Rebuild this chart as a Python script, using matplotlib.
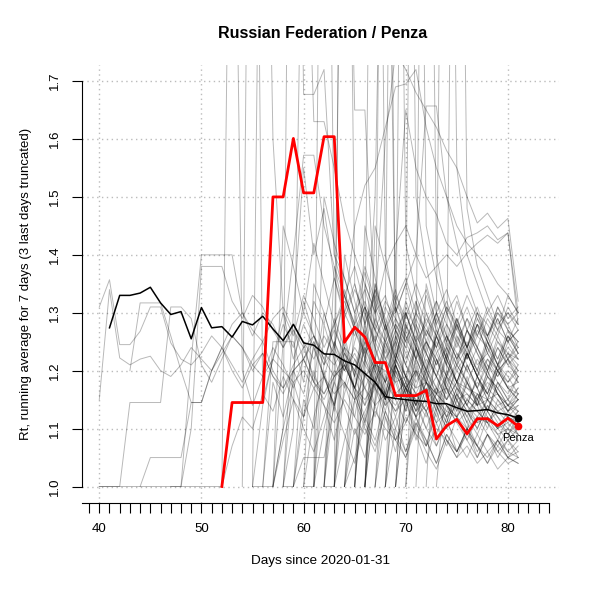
import matplotlib
matplotlib.use("Agg")
import matplotlib.pyplot as plt
import numpy as np

plt.rcParams['font.family'] = ['Liberation Sans', 'DejaVu Sans']

# Rt of all regions: (first day, daily values up to day 81)
gray_series = [
    (40, [1.31, 1.357, 1.245, 1.245, 1.268, 1.31, 1.31, 1.248, 1.22, 1.21, 1.23, 1.26, 1.24, 1.28, 1.30, 1.27, 1.25, 1.29, 1.31, 1.27, 1.24, 1.26, 1.23, 1.21, 1.24, 1.22, 1.19, 1.21, 1.20, 1.18, 1.19, 1.17, 1.18, 1.16, 1.17, 1.15, 1.16, 1.14, 1.15, 1.13, 1.14, 1.13]),
    (40, [1.15, 1.34, 1.222, 1.21, 1.22, 1.225, 1.20, 1.19, 1.21, 1.24, 1.22, 1.20, 1.23, 1.26, 1.24, 1.21, 1.19, 1.22, 1.20, 1.18, 1.20, 1.17, 1.19, 1.16, 1.18, 1.15, 1.17, 1.14, 1.16, 1.13, 1.15, 1.12, 1.14, 1.11, 1.13, 1.12, 1.10, 1.12, 1.11, 1.09, 1.10, 1.09]),
    (40, [1.0, 1.0, 1.0, 1.145, 1.145, 1.145, 1.145, 1.31, 1.31, 1.29, 1.21, 1.18, 1.22, 1.26, 1.24, 1.20, 1.23, 1.19, 1.17, 1.20, 1.22, 1.18, 1.16, 1.19, 1.21, 1.17, 1.15, 1.18, 1.16, 1.14, 1.17, 1.15, 1.13, 1.16, 1.14, 1.12, 1.15, 1.13, 1.11, 1.13, 1.12, 1.11]),
    (44, [1.0, 1.05, 1.05, 1.05, 1.05, 1.145, 1.145, 1.20, 1.24, 1.21, 1.18, 1.22, 1.25, 1.20, 1.17, 1.21, 1.24, 1.19, 1.16, 1.20, 1.18, 1.15, 1.19, 1.17, 1.14, 1.16, 1.18, 1.13, 1.15, 1.17, 1.12, 1.14, 1.13, 1.11, 1.12, 1.10, 1.11, 1.09]),
    (47, [1.0, 1.0, 1.22, 1.40, 1.40, 1.40, 1.40, 1.30, 1.26, 1.30, 1.28, 1.24, 1.27, 1.22, 1.25, 1.21, 1.24, 1.20, 1.23, 1.19, 1.22, 1.18, 1.21, 1.17, 1.20, 1.16, 1.19, 1.15, 1.18, 1.17, 1.16, 1.15, 1.16, 1.14, 1.15]),
    (48, [1.0, 1.10, 1.38, 1.38, 1.38, 1.32, 1.29, 1.33, 1.31, 1.27, 1.24, 1.28, 1.25, 1.22, 1.26, 1.23, 1.20, 1.24, 1.21, 1.18, 1.22, 1.19, 1.17, 1.20, 1.18, 1.16, 1.19, 1.17, 1.15, 1.18, 1.16, 1.14, 1.15, 1.13]),
    (43, [1.20, 1.317, 1.317, 1.317, 1.26, 1.20, 1.145, 1.145, 1.20, 1.24, 1.20, 1.17, 1.21, 1.23, 1.19, 1.16, 1.20, 1.22, 1.18, 1.15, 1.19, 1.21, 1.17, 1.14, 1.18, 1.16, 1.13, 1.17, 1.15, 1.12, 1.16, 1.14, 1.11, 1.13, 1.15, 1.12, 1.10, 1.12, 1.11]),
    (40, [1.0, 1.0, 1.0, 1.0, 1.0, 1.0, 1.0, 1.0, 1.0, 1.0, 1.0, 1.0, 1.0, 1.07, 1.12, 1.10, 1.16, 1.13, 1.19, 1.15, 1.12, 1.17, 1.14, 1.11, 1.15, 1.12, 1.09, 1.13, 1.10, 1.08, 1.12, 1.09, 1.07, 1.10, 1.08, 1.06, 1.09, 1.07, 1.05, 1.08, 1.06, 1.05]),
    (52, [1.0, 2.5, 1.2, 1.14, 1.19, 1.24, 1.21, 1.17, 1.22, 1.26, 1.22, 1.19, 1.23, 1.20, 1.17, 1.21, 1.18, 1.15, 1.19, 1.16, 1.13, 1.17, 1.14, 1.12, 1.15, 1.13, 1.11, 1.14, 1.12, 1.10]),
    (54, [1.0, 3.0, 1.15, 1.22, 1.28, 1.24, 1.30, 1.26, 1.22, 1.27, 1.23, 1.20, 1.25, 1.22, 1.18, 1.22, 1.19, 1.16, 1.20, 1.17, 1.15, 1.18, 1.16, 1.14, 1.17, 1.15, 1.13, 1.14]),
    (57, [1.0, 1.1, 3.0, 1.677, 1.677, 1.72, 1.40, 1.36, 1.30, 1.34, 1.28, 1.25, 1.29, 1.26, 1.22, 1.25, 1.21, 1.24, 1.20, 1.23, 1.19, 1.22, 1.20, 1.18, 1.21]),
    (58, [1.0, 1.1, 2.2, 1.63, 1.63, 1.55, 1.46, 1.40, 1.35, 1.30, 1.33, 1.27, 1.30, 1.25, 1.28, 1.23, 1.26, 1.22, 1.25, 1.21, 1.23, 1.20, 1.22, 1.19]),
    (62, [1.0, 1.2, 2.5, 1.65, 1.65, 1.30, 1.22, 1.27, 1.24, 1.20, 1.25, 1.22, 1.18, 1.21, 1.24, 1.20, 1.17, 1.21, 1.19, 1.16]),
    (63, [1.0, 1.3, 1.45, 1.52, 1.55, 1.62, 1.69, 1.695, 1.72, 1.62, 1.55, 1.50, 1.45, 1.42, 1.40, 1.38, 1.35, 1.33, 1.30]),
    (65, [1.0, 1.2, 1.5, 2.4, 1.30, 1.35, 1.40, 1.657, 1.657, 1.50, 1.42, 1.35, 1.30, 1.28, 1.25, 1.23, 1.21]),
    (66, [1.0, 1.3, 1.6, 1.75, 1.72, 1.68, 1.65, 1.62, 1.58, 1.55, 1.50, 1.455, 1.472, 1.446, 1.463, 1.32]),
    (68, [1.0, 1.4, 1.65, 1.55, 1.50, 1.47, 1.42, 1.40, 1.43, 1.438, 1.45, 1.426, 1.438, 1.30]),
    (64, [1.0, 1.15, 1.35, 1.30, 1.38, 1.42, 1.45, 1.40, 1.36, 1.38, 1.40, 1.38, 1.403, 1.42, 1.434, 1.42, 1.438, 1.28]),
    (55, [1.0, 1.14, 1.22, 1.30, 1.26, 1.33, 1.29, 1.24, 1.28, 1.32, 1.27, 1.23, 1.26, 1.22, 1.25, 1.21, 1.18, 1.22, 1.19, 1.16, 1.20, 1.17, 1.15, 1.18, 1.16, 1.13, 1.15]),
    (55, [1.0, 1.0, 1.18, 1.12, 1.20, 1.16, 1.24, 1.19, 1.14, 1.21, 1.17, 1.25, 1.20, 1.16, 1.22, 1.18, 1.14, 1.19, 1.15, 1.12, 1.17, 1.14, 1.11, 1.15, 1.12, 1.10, 1.13]),
    (56, [1.0, 1.25, 1.25, 1.25, 1.18, 1.32, 1.28, 1.36, 1.30, 1.26, 1.31, 1.27, 1.23, 1.28, 1.24, 1.29, 1.25, 1.21, 1.26, 1.23, 1.20, 1.24, 1.21, 1.19, 1.22, 1.20]),
    (57, [1.0, 1.08, 1.15, 1.10, 1.06, 1.12, 1.18, 1.14, 1.09, 1.13, 1.17, 1.12, 1.08, 1.11, 1.15, 1.10, 1.07, 1.11, 1.08, 1.05, 1.09, 1.06, 1.08, 1.05, 1.06]),
    (57, [1.0, 1.45, 1.38, 1.30, 1.42, 1.35, 1.28, 1.33, 1.38, 1.31, 1.27, 1.32, 1.29, 1.25, 1.30, 1.27, 1.24, 1.28, 1.25, 1.22, 1.26, 1.24, 1.21, 1.23, 1.22]),
    (58, [1.0, 1.0, 1.12, 1.20, 1.14, 1.08, 1.16, 1.22, 1.17, 1.12, 1.19, 1.15, 1.11, 1.16, 1.13, 1.09, 1.14, 1.11, 1.08, 1.12, 1.09, 1.07, 1.10, 1.08]),
    (58, [1.0, 1.30, 1.55, 1.40, 1.48, 1.36, 1.29, 1.34, 1.30, 1.25, 1.31, 1.27, 1.22, 1.26, 1.23, 1.19, 1.24, 1.21, 1.18, 1.22, 1.19, 1.17, 1.20, 1.18]),
    (59, [1.0, 1.15, 1.10, 1.21, 1.28, 1.22, 1.17, 1.24, 1.20, 1.15, 1.21, 1.17, 1.13, 1.18, 1.14, 1.11, 1.16, 1.13, 1.10, 1.14, 1.12, 1.09, 1.11]),
    (59, [1.0, 1.05, 1.05, 1.05, 1.14, 1.09, 1.04, 1.11, 1.07, 1.13, 1.08, 1.05, 1.10, 1.06, 1.03, 1.08, 1.05, 1.07, 1.04, 1.06, 1.03, 1.05, 1.04]),
    (60, [1.0, 1.35, 1.30, 1.24, 1.33, 1.28, 1.37, 1.31, 1.26, 1.32, 1.28, 1.24, 1.29, 1.26, 1.31, 1.27, 1.24, 1.28, 1.26, 1.30, 1.27, 1.25]),
    (60, [1.0, 1.0, 1.20, 1.13, 1.26, 1.19, 1.14, 1.22, 1.17, 1.12, 1.18, 1.14, 1.10, 1.15, 1.12, 1.16, 1.12, 1.09, 1.13, 1.10, 1.08, 1.10]),
    (61, [1.0, 1.50, 1.42, 1.36, 1.30, 1.38, 1.32, 1.27, 1.33, 1.29, 1.35, 1.30, 1.26, 1.31, 1.28, 1.33, 1.29, 1.26, 1.30, 1.28, 1.24]),
    (61, [1.0, 1.10, 1.18, 1.24, 1.16, 1.11, 1.19, 1.14, 1.21, 1.16, 1.12, 1.17, 1.13, 1.19, 1.15, 1.11, 1.16, 1.13, 1.17, 1.14, 1.12]),
    (62, [1.0, 1.25, 1.20, 1.28, 1.23, 1.18, 1.25, 1.21, 1.27, 1.22, 1.18, 1.23, 1.19, 1.25, 1.21, 1.17, 1.22, 1.19, 1.23, 1.20]),
    (62, [1.0, 1.0, 1.08, 1.15, 1.10, 1.06, 1.13, 1.09, 1.05, 1.11, 1.08, 1.04, 1.09, 1.06, 1.10, 1.07, 1.04, 1.08, 1.05, 1.07]),
    (63, [1.0, 1.40, 1.32, 1.26, 1.34, 1.29, 1.24, 1.31, 1.27, 1.23, 1.29, 1.25, 1.32, 1.27, 1.24, 1.29, 1.26, 1.31, 1.28]),
    (63, [1.0, 1.18, 1.12, 1.22, 1.17, 1.26, 1.20, 1.15, 1.22, 1.18, 1.13, 1.19, 1.15, 1.21, 1.17, 1.13, 1.18, 1.15, 1.19]),
    (64, [1.0, 1.30, 1.22, 1.35, 1.28, 1.22, 1.30, 1.25, 1.20, 1.27, 1.23, 1.29, 1.24, 1.20, 1.26, 1.22, 1.27, 1.23]),
    (64, [1.0, 1.10, 1.05, 1.14, 1.08, 1.12, 1.06, 1.11, 1.07, 1.13, 1.08, 1.05, 1.10, 1.06, 1.09, 1.05, 1.08, 1.06]),
    (65, [1.0, 1.45, 1.36, 1.28, 1.34, 1.27, 1.32, 1.26, 1.30, 1.25, 1.29, 1.24, 1.28, 1.23, 1.27, 1.25, 1.29]),
    (65, [1.0, 1.20, 1.14, 1.24, 1.18, 1.13, 1.20, 1.16, 1.22, 1.17, 1.13, 1.18, 1.15, 1.20, 1.16, 1.14, 1.17]),
    (66, [1.0, 1.15, 1.25, 1.19, 1.13, 1.21, 1.16, 1.11, 1.17, 1.13, 1.19, 1.14, 1.10, 1.15, 1.12, 1.14]),
    (66, [1.0, 1.35, 1.28, 1.22, 1.30, 1.25, 1.33, 1.27, 1.22, 1.28, 1.24, 1.30, 1.26, 1.31, 1.27, 1.25]),
    (67, [1.0, 1.12, 1.06, 1.15, 1.09, 1.04, 1.11, 1.07, 1.12, 1.08, 1.05, 1.09, 1.06, 1.04, 1.05]),
    (67, [1.0, 1.28, 1.21, 1.16, 1.24, 1.19, 1.26, 1.21, 1.17, 1.23, 1.19, 1.24, 1.20, 1.22, 1.18]),
    (68, [1.0, 1.22, 1.30, 1.24, 1.18, 1.26, 1.21, 1.28, 1.23, 1.19, 1.25, 1.21, 1.26, 1.23]),
    (69, [1.0, 1.15, 1.08, 1.13, 1.07, 1.12, 1.06, 1.10, 1.05, 1.09, 1.06, 1.08, 1.05]),
    (70, [1.0, 1.32, 1.25, 1.30, 1.24, 1.28, 1.22, 1.27, 1.24, 1.29, 1.25, 1.27]),
    (65, [1.0, 1.22, 3.0, 1.40, 1.30, 1.35, 1.28, 1.24, 1.30, 1.26, 1.22, 1.27, 1.23, 1.20, 1.24, 1.21, 1.19]),
    (66, [1.0, 1.15, 3.0, 1.25, 1.32, 1.27, 1.21, 1.26, 1.22, 1.18, 1.23, 1.19, 1.16, 1.21, 1.18, 1.20]),
    (68, [1.0, 1.20, 3.0, 1.50, 1.38, 1.30, 1.34, 1.28, 1.24, 1.29, 1.25, 1.22, 1.26, 1.23]),
    (69, [1.0, 1.30, 3.0, 1.45, 1.36, 1.30, 1.33, 1.27, 1.31, 1.26, 1.29, 1.25, 1.27]),
    (72, [1.0, 1.30, 3.0, 1.55, 1.40, 1.35, 1.30, 1.33, 1.29, 1.31]),
    (73, [1.0, 1.20, 3.0, 1.48, 1.38, 1.33, 1.28, 1.30, 1.27]),
    (63, [1.0, 3.0, 1.35, 1.28, 1.34, 1.27, 1.22, 1.28, 1.24, 1.20, 1.25, 1.21, 1.18, 1.23, 1.19, 1.16, 1.20, 1.17, 1.15]),
    (55, [1.0, 2.6, 1.60, 1.30, 1.22, 1.28, 1.24, 1.19, 1.25, 1.21, 1.17, 1.22, 1.18, 1.15, 1.20, 1.17, 1.14, 1.18, 1.15, 1.13, 1.17, 1.14, 1.12, 1.15, 1.13, 1.11, 1.13]),
    (58, [1.0, 1.20, 1.32, 1.26, 1.21, 1.29, 1.24, 1.19, 1.26, 1.22, 1.28, 1.23, 1.19, 1.24, 1.20, 1.26, 1.22, 1.18, 1.23, 1.20, 1.25, 1.21, 1.24, 1.22]),
    (59, [1.0, 1.25, 1.18, 1.30, 1.24, 1.34, 1.27, 1.22, 1.29, 1.25, 1.31, 1.26, 1.22, 1.27, 1.24, 1.30, 1.26, 1.23, 1.28, 1.25, 1.31, 1.28, 1.30]),
    (60, [1.0, 1.12, 1.19, 1.14, 1.23, 1.17, 1.12, 1.18, 1.15, 1.21, 1.16, 1.12, 1.17, 1.14, 1.10, 1.15, 1.12, 1.16, 1.13, 1.10, 1.13, 1.11]),
    (61, [1.0, 1.28, 1.22, 1.17, 1.25, 1.31, 1.24, 1.19, 1.26, 1.21, 1.17, 1.23, 1.19, 1.15, 1.21, 1.18, 1.14, 1.19, 1.16, 1.13, 1.16]),
    (62, [1.0, 1.15, 1.22, 1.16, 1.11, 1.18, 1.13, 1.20, 1.15, 1.10, 1.16, 1.12, 1.18, 1.14, 1.10, 1.15, 1.11, 1.08, 1.12, 1.09]),
    (62, [1.0, 1.38, 1.30, 1.35, 1.28, 1.33, 1.27, 1.31, 1.25, 1.30, 1.26, 1.32, 1.28, 1.24, 1.29, 1.26, 1.31, 1.27, 1.30, 1.28]),
    (63, [1.0, 1.25, 1.19, 1.27, 1.21, 1.16, 1.23, 1.19, 1.25, 1.20, 1.16, 1.22, 1.18, 1.23, 1.19, 1.15, 1.20, 1.17, 1.18]),
    (64, [1.0, 1.20, 1.28, 1.21, 1.15, 1.22, 1.18, 1.24, 1.19, 1.14, 1.20, 1.16, 1.21, 1.17, 1.13, 1.18, 1.15, 1.17]),
    (64, [1.0, 1.05, 1.12, 1.08, 1.15, 1.10, 1.06, 1.12, 1.08, 1.04, 1.09, 1.06, 1.10, 1.07, 1.04, 1.07, 1.05, 1.04]),
    (65, [1.0, 1.30, 1.24, 1.18, 1.26, 1.21, 1.28, 1.23, 1.19, 1.25, 1.21, 1.27, 1.23, 1.19, 1.24, 1.21, 1.23]),
    (66, [1.0, 1.22, 1.16, 1.24, 1.19, 1.14, 1.20, 1.16, 1.23, 1.18, 1.14, 1.19, 1.16, 1.21, 1.17, 1.15]),
    (66, [1.0, 1.45, 1.38, 1.32, 1.36, 1.30, 1.34, 1.28, 1.32, 1.27, 1.31, 1.26, 1.30, 1.27, 1.33, 1.30]),
    (67, [1.0, 1.18, 1.25, 1.19, 1.14, 1.21, 1.17, 1.23, 1.18, 1.14, 1.19, 1.15, 1.20, 1.17, 1.16]),
    (68, [1.0, 1.10, 1.17, 1.12, 1.07, 1.14, 1.10, 1.15, 1.11, 1.07, 1.12, 1.09, 1.06, 1.08]),
    (69, [1.0, 1.28, 1.22, 1.30, 1.24, 1.19, 1.26, 1.22, 1.28, 1.23, 1.20, 1.25, 1.22]),
    (70, [1.0, 1.20, 1.14, 1.22, 1.17, 1.12, 1.18, 1.14, 1.20, 1.16, 1.13, 1.15]),
    (71, [1.0, 1.35, 1.28, 1.22, 1.29, 1.24, 1.30, 1.25, 1.21, 1.26, 1.24]),
    (56, [1.0, 1.0, 1.10, 1.18, 1.12, 1.25, 1.19, 1.14, 1.22, 1.17, 1.24, 1.19, 1.15, 1.21, 1.17, 1.13, 1.18, 1.15, 1.11, 1.16, 1.13, 1.10, 1.14, 1.11, 1.09, 1.12]),
    (61, [1.0, 2.8, 1.40, 1.33, 1.27, 1.31, 1.25, 1.21, 1.27, 1.23, 1.19, 1.24, 1.20, 1.17, 1.22, 1.18, 1.15, 1.19, 1.17, 1.14, 1.16]),
    (66, [1.0, 1.25, 1.30, 3.0, 1.42, 1.33, 1.28, 1.32, 1.26, 1.22, 1.27, 1.24, 1.20, 1.25, 1.22, 1.24]),
    (69, [1.0, 1.15, 1.22, 3.0, 1.40, 1.30, 1.25, 1.29, 1.24, 1.20, 1.26, 1.22, 1.25]),
    (57, [1.0, 1.25, 1.40, 1.572, 1.572, 1.45, 1.38, 1.33, 1.28, 1.32, 1.27, 1.24, 1.28, 1.25, 1.21, 1.25, 1.22, 1.19, 1.23, 1.20, 1.17, 1.21, 1.18, 1.16, 1.19]),
]

# whole country
russia_start = 41
russia_rt = [1.274, 1.330, 1.330, 1.334, 1.344, 1.317, 1.297, 1.302, 1.255, 1.309,
             1.274, 1.276, 1.258, 1.285, 1.279, 1.294, 1.272, 1.252, 1.280, 1.248,
             1.244, 1.229, 1.228, 1.217, 1.210, 1.195, 1.180, 1.155, 1.152, 1.150,
             1.148, 1.147, 1.143, 1.143, 1.136, 1.130, 1.131, 1.133, 1.127, 1.124,
             1.118]

# Penza
penza_start = 52
penza_rt = [1.0, 1.145, 1.145, 1.145, 1.145, 1.5, 1.5, 1.601, 1.507, 1.507,
            1.604, 1.604, 1.249, 1.275, 1.258, 1.214, 1.214, 1.157, 1.157, 1.157,
            1.166, 1.082, 1.105, 1.116, 1.091, 1.117, 1.117, 1.105, 1.118, 1.104]

fig = plt.figure(figsize=(6, 6), dpi=100)
ax = fig.add_axes([0.136, 0.1625, 0.796, 0.729])

for start, vals in gray_series:
    days = start + np.arange(len(vals))
    keep = days <= 81
    ax.plot(days[keep], np.array(vals)[keep], color='black', alpha=0.28, lw=0.7)

rd = russia_start + np.arange(len(russia_rt))
ax.plot(rd, russia_rt, color='black', lw=1.1)
ax.plot(rd[-1], russia_rt[-1], 'o', color='black', ms=4.5)

pd_ = penza_start + np.arange(len(penza_rt))
ax.plot(pd_, penza_rt, color='red', lw=2.0)
ax.plot(pd_[-1], penza_rt[-1], 'o', color='red', ms=4.5)
ax.text(pd_[-1], penza_rt[-1] - 0.02, 'Penza', fontsize=8, ha='center', va='center')

ax.set_xlim(38.27, 85.02)
ax.set_ylim(0.9724, 1.7276)

# dotted grid
for gx in range(40, 81, 10):
    ax.axvline(gx, color='#bbbbbb', ls=(0, (1, 2.5)), lw=1.0, zorder=0)
for gy in np.arange(1.0, 1.71, 0.1):
    ax.axhline(gy, color='#bbbbbb', ls=(0, (1, 2.5)), lw=1.0, zorder=0)

ax.spines['top'].set_visible(False)
ax.spines['right'].set_visible(False)
ax.spines['left'].set_bounds(1.0, 1.7)
ax.spines['bottom'].set_bounds(38.27, 84)

xt = np.arange(39, 85)
ax.set_xticks(xt)
ax.set_xticklabels([str(t) if t % 10 == 0 else '' for t in xt])
yt = np.round(np.arange(1.0, 1.71, 0.1), 1)
ax.set_yticks(yt)
ax.set_yticklabels(['%.1f' % v for v in yt], rotation=90, va='center')
ax.tick_params(length=7, width=0.8, labelsize=9.5, direction='out')
ax.tick_params(axis='x', pad=8)
ax.tick_params(axis='y', pad=8)

ax.set_xlabel('Days since 2020-01-31', fontsize=9.7, labelpad=14)
ax.set_ylabel('Rt, running average for 7 days (3 last days truncated)', fontsize=9.5, labelpad=12)
fig.text(0.537, 0.945, 'Russian Federation / Penza', fontsize=11.5, fontweight='bold',
         ha='center', va='center')

fig.savefig('out.png', dpi=100)
